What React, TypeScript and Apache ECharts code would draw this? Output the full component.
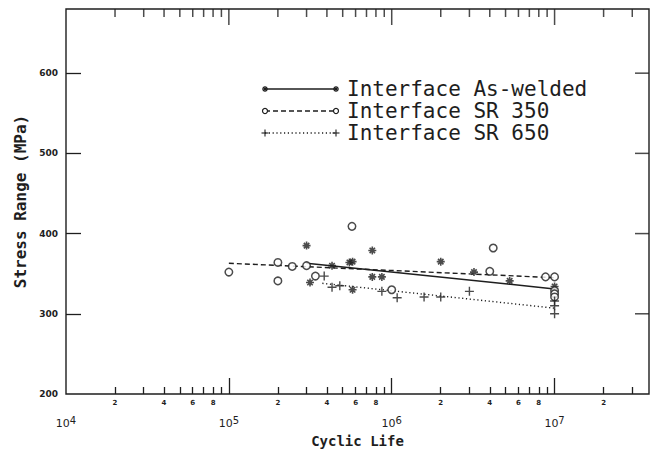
import React, { useEffect, useRef } from 'react';
import * as echarts from 'echarts';

// ---------- axis ranges & ticks ----------
const X_MIN = 1e4;
const X_MAX = 3.8e7;
const Y_MIN = 200;
const Y_MAX = 680;

const Y_TICKS = [300, 400, 500, 600];
const Y_LABELS = [200, 300, 400, 500, 600];

const X_MAJOR_TICKS = [1e5, 1e6, 1e7];
const X_MAJOR_LABELS = [1e4, 1e5, 1e6, 1e7];
const X_MINOR_TICKS = [
  2e4, 3e4, 4e4, 5e4, 6e4, 7e4, 8e4, 9e4,
  2e5, 3e5, 4e5, 5e5, 6e5, 7e5, 8e5, 9e5,
  2e6, 3e6, 4e6, 5e6, 6e6, 7e6, 8e6, 9e6,
  2e7, 3e7,
];
const X_MINOR_LABELS = [
  2e4, 4e4, 6e4, 8e4,
  2e5, 4e5, 6e5, 8e5,
  2e6, 4e6, 6e6, 8e6,
  2e7,
];

// ---------- series ----------
const SERIES_NAMES = ['Interface As-welded', 'Interface SR 350', 'Interface SR 650'];

const asWelded = [
  [3e5, 385], [3.15e5, 339], [4.3e5, 360], [5.5e5, 364], [5.75e5, 365],
  [5.75e5, 330], [7.6e5, 379], [7.6e5, 346], [8.7e5, 346], [2e6, 365],
  [3.2e6, 352], [5.3e6, 341], [1e7, 334],
];
const sr350 = [
  [1e5, 352], [2e5, 364], [2e5, 341], [2.45e5, 359], [3e5, 360],
  [3.4e5, 347], [5.7e5, 409], [1e6, 330], [4e6, 353], [4.2e6, 382],
  [8.8e6, 346], [1e7, 346], [1e7, 329], [1e7, 325], [1e7, 321],
];
const sr650 = [
  [3.85e5, 347], [4.3e5, 333], [4.8e5, 335], [8.7e5, 328], [1.08e6, 320],
  [1.58e6, 321], [2e6, 321], [3e6, 328], [1e7, 316], [1e7, 310], [1e7, 300],
];

const fitAsWelded = [[3e5, 363], [1e7, 331]];
const fitSr350 = [[1e5, 363], [1e7, 345]];
const fitSr650 = [[3.75e5, 338], [1e7, 307]];

// ---------- styling ----------
const INK = '#1e1e1e';
const MONO = '"DejaVu Sans Mono", monospace';
const SANS = '"DejaVu Sans", sans-serif';
const ASTERISK = 'path://M5,0L5,10M0,5L10,5M1.6,1.6L8.4,8.4M1.6,8.4L8.4,1.6';
const PLUS = 'path://M5,0L5,10M0,5L10,5';
const TOP_MINOR_LEN = 8;
const TOP_MAJOR_LEN = 16;
const RIGHT_TICK_LEN = 14;
const TICK_W = 1.5;

function legendRow(i: number, y: number): any[] {
  const x1 = 265;
  const x2 = 336;
  const dash = i === 0 ? undefined : i === 1 ? [5, 3] : [1.2, 2.6];
  const els: any[] = [
    {
      type: 'line',
      shape: { x1, y1: y, x2, y2: y },
      style: { stroke: INK, lineWidth: 1.3, lineDash: dash },
    },
  ];
  [x1, x2].forEach((cx) => {
    if (i === 0) {
      const r = 3;
      els.push(
        { type: 'line', shape: { x1: cx - r, y1: y, x2: cx + r, y2: y }, style: { stroke: INK, lineWidth: 1.3 } },
        { type: 'line', shape: { x1: cx, y1: y - r, x2: cx, y2: y + r }, style: { stroke: INK, lineWidth: 1.3 } },
        { type: 'line', shape: { x1: cx - 2.1, y1: y - 2.1, x2: cx + 2.1, y2: y + 2.1 }, style: { stroke: INK, lineWidth: 1.3 } },
        { type: 'line', shape: { x1: cx - 2.1, y1: y + 2.1, x2: cx + 2.1, y2: y - 2.1 }, style: { stroke: INK, lineWidth: 1.3 } },
      );
    } else if (i === 1) {
      els.push({ type: 'circle', shape: { cx, cy: y, r: 2.5 }, style: { fill: '#fff', stroke: INK, lineWidth: 1.2 } });
    } else {
      const r = 3.5;
      els.push(
        { type: 'line', shape: { x1: cx - r, y1: y, x2: cx + r, y2: y }, style: { stroke: INK, lineWidth: 1.1 } },
        { type: 'line', shape: { x1: cx, y1: y - r, x2: cx, y2: y + r }, style: { stroke: INK, lineWidth: 1.1 } },
      );
    }
  });
  els.push({
    type: 'text',
    x: 347,
    y,
    style: {
      text: SERIES_NAMES[i],
      fill: INK,
      font: `21px ${MONO}`,
      verticalAlign: 'middle',
      align: 'left',
    },
  });
  return els;
}

function logAxis(extra: any): any {
  return {
    type: 'log',
    logBase: 10,
    min: X_MIN,
    max: X_MAX,
    axisLine: { show: false },
    splitLine: { show: false },
    minorTick: { show: false },
    minorSplitLine: { show: false },
    ...extra,
  };
}

// frame ticks drawn as thin rectangles anchored on the top / right frame
function frameTicks(name: string, data: number[][], size: number[], offset: number[]): any {
  return {
    name,
    type: 'scatter',
    data,
    symbol: 'rect',
    symbolSize: size,
    symbolOffset: offset,
    itemStyle: { color: INK, borderWidth: 0 },
    clip: false,
    silent: true,
    z: 4,
  };
}

export default function App() {
  const ref = useRef<HTMLDivElement>(null);

  useEffect(() => {
    if (!ref.current) return;
    const chart = echarts.init(ref.current, null, { renderer: 'svg' });

    const tickLine = { color: INK, width: 1.3 };

    const topMinorData = X_MINOR_TICKS.map((v) => [v, Y_MAX]);
    const topMajorData = X_MAJOR_TICKS.map((v) => [v, Y_MAX]);
    const rightData = Y_TICKS.map((v) => [X_MAX, v]);

    const option: any = {
      animation: false,
      backgroundColor: '#ffffff',
      grid: {
        left: 66,
        right: 2,
        top: 9,
        bottom: 63,
        show: true,
        borderColor: INK,
        borderWidth: 1.4,
        backgroundColor: 'transparent',
        containLabel: false,
        outerBoundsMode: 'none',
      },
      xAxis: [
        logAxis({
          position: 'bottom',
          name: 'Cyclic Life',
          nameLocation: 'middle',
          nameGap: 40,
          nameMoveOverlap: false,
          nameTextStyle: { fontFamily: MONO, fontSize: 14, fontWeight: 'bold', color: INK },
          axisTick: { show: true, inside: true, length: 16, customValues: X_MAJOR_TICKS, lineStyle: tickLine },
          axisLabel: {
            show: true,
            customValues: X_MAJOR_LABELS,
            margin: 21,
            showMinLabel: true,
            showMaxLabel: true,
            hideOverlap: false,
            formatter: (v: number) => `{b|10}{s|${Math.round(Math.log10(v))}}`,
            rich: {
              b: { fontFamily: SANS, fontSize: 11, color: INK },
              s: { fontFamily: SANS, fontSize: 10, color: INK, padding: [0, 0, 7, 0] },
            },
          },
        }),
        logAxis({
          position: 'bottom',
          axisTick: { show: true, inside: true, length: 7, customValues: X_MINOR_TICKS, lineStyle: tickLine },
          axisLabel: {
            show: true,
            customValues: X_MINOR_LABELS,
            margin: 5,
            hideOverlap: false,
            fontFamily: SANS,
            fontSize: 7,
            fontWeight: 'bold',
            color: INK,
            formatter: (v: number) => String(Math.round(v / Math.pow(10, Math.floor(Math.log10(v) + 1e-9)))),
          },
        }),
      ],
      yAxis: [
        {
          type: 'value',
          position: 'left',
          min: Y_MIN,
          max: Y_MAX,
          name: 'Stress Range (MPa)',
          nameLocation: 'middle',
          nameGap: 38,
          nameMoveOverlap: false,
          nameTextStyle: { fontFamily: MONO, fontSize: 16, fontWeight: 'bold', color: INK },
          axisLine: { show: false },
          splitLine: { show: false },
          axisTick: { show: true, inside: true, length: 15, customValues: Y_TICKS, lineStyle: tickLine },
          axisLabel: {
            show: true,
            customValues: Y_LABELS,
            margin: 8,
            fontFamily: SANS,
            fontSize: 9,
            fontWeight: 'bold',
            color: INK,
          },
        },
      ],
      series: [
        {
          name: SERIES_NAMES[0],
          type: 'scatter',
          data: asWelded,
          symbol: ASTERISK,
          symbolSize: 8,
          itemStyle: { color: 'rgba(0,0,0,0)', borderColor: INK, borderWidth: 1.6 },
          z: 3,
        },
        {
          name: SERIES_NAMES[1],
          type: 'scatter',
          data: sr350,
          symbol: 'circle',
          symbolSize: 7.5,
          itemStyle: { color: '#ffffff', borderColor: INK, borderWidth: 1.5 },
          z: 3,
        },
        {
          name: SERIES_NAMES[2],
          type: 'scatter',
          data: sr650,
          symbol: PLUS,
          symbolSize: 9,
          itemStyle: { color: 'rgba(0,0,0,0)', borderColor: INK, borderWidth: 1.4 },
          z: 3,
        },
        {
          name: SERIES_NAMES[0] + ' fit',
          type: 'line',
          data: fitAsWelded,
          showSymbol: false,
          symbol: 'none',
          lineStyle: { color: INK, width: 1.5, type: 'solid' },
          z: 2,
        },
        {
          name: SERIES_NAMES[1] + ' fit',
          type: 'line',
          data: fitSr350,
          showSymbol: false,
          symbol: 'none',
          lineStyle: { color: INK, width: 1.4, type: [5, 3] },
          z: 2,
        },
        {
          name: SERIES_NAMES[2] + ' fit',
          type: 'line',
          data: fitSr650,
          showSymbol: false,
          symbol: 'none',
          lineStyle: { color: INK, width: 1.4, type: [1.2, 2.6] },
          z: 2,
        },
        frameTicks('top minor ticks', topMinorData, [TICK_W, TOP_MINOR_LEN], [0, TOP_MINOR_LEN / 2]),
        frameTicks('top major ticks', topMajorData, [TICK_W, TOP_MAJOR_LEN], [0, TOP_MAJOR_LEN / 2]),
        frameTicks('right ticks', rightData, [RIGHT_TICK_LEN, TICK_W], [-RIGHT_TICK_LEN / 2, 0]),
      ],
      graphic: [...legendRow(0, 89), ...legendRow(1, 111), ...legendRow(2, 133)],
    };

    chart.setOption(option);

    return () => {
      chart.dispose();
    };
  }, []);

  return (
    <div
      ref={ref}
      style={{ position: 'fixed', left: 0, top: 0, width: 651, height: 457, background: '#fff' }}
    />
  );
}
